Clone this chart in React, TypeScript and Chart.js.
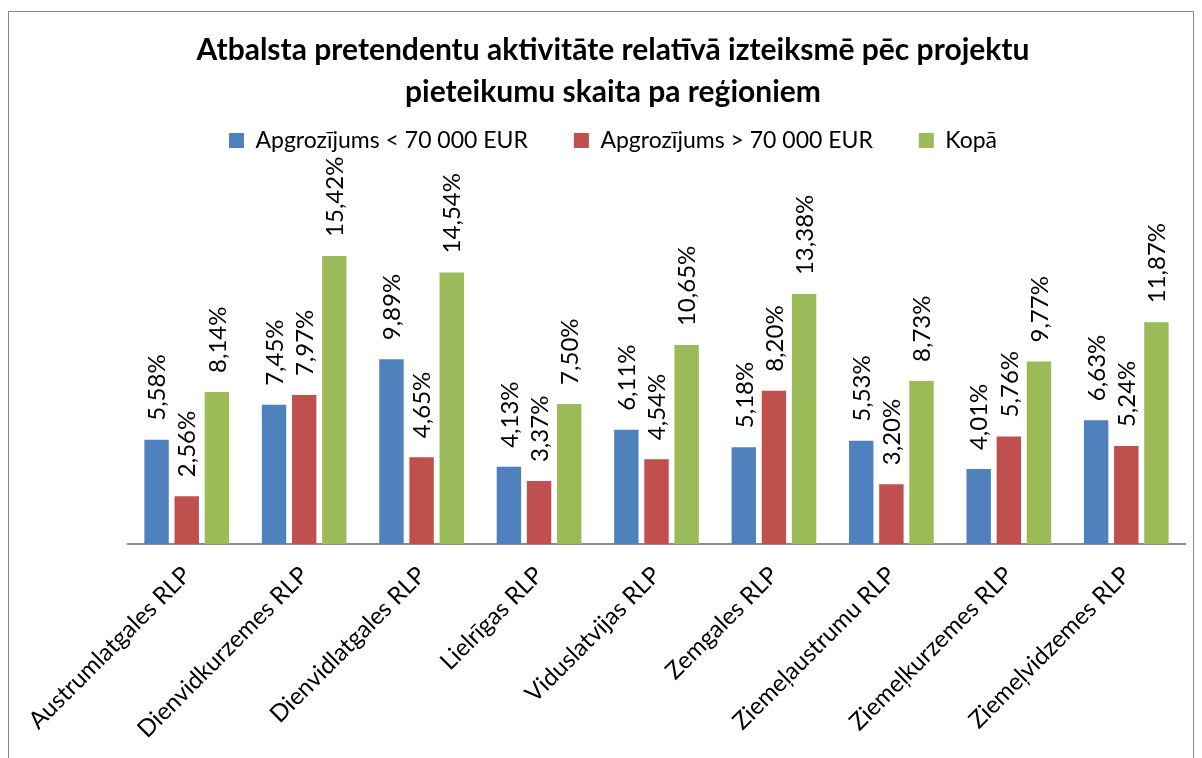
import React, { useEffect, useRef } from "react";
import { Chart, registerables } from "chart.js";

Chart.register(...registerables);

const categories = [
  "Austrumlatgales RLP",
  "Dienvidkurzemes RLP",
  "Dienvidlatgales RLP",
  "Lielrīgas RLP",
  "Viduslatvijas RLP",
  "Zemgales RLP",
  "Ziemeļaustrumu RLP",
  "Ziemeļkurzemes RLP",
  "Ziemeļvidzemes RLP",
];
const seriesNames = ["Apgrozījums < 70 000 EUR", "Apgrozījums > 70 000 EUR", "Kopā"];
const under70k = [5.58, 7.45, 9.89, 4.13, 6.11, 5.18, 5.53, 4.01, 6.63];
const over70k = [2.56, 7.97, 4.65, 3.37, 4.54, 8.2, 3.2, 5.76, 5.24];
const total = [8.14, 15.42, 14.54, 7.5, 10.65, 13.38, 8.73, 9.77, 11.87];
const titleLines = [
  "Atbalsta pretendentu aktivitāte relatīvā izteiksmē pēc projektu",
  "pieteikumu skaita pa reģioniem",
];
const colors = ["#4F81BD", "#C0504D", "#9BBB59"];

const FONT = "Lato";

const valueLabels = {
  id: "valueLabels",
  afterDatasetsDraw(chart: any) {
    const ctx = chart.ctx;
    ctx.save();
    ctx.font = `24px ${FONT}`;
    ctx.fillStyle = "#000";
    ctx.textAlign = "left";
    ctx.textBaseline = "middle";
    chart.data.datasets.forEach((ds: any, di: number) => {
      const meta = chart.getDatasetMeta(di);
      meta.data.forEach((el: any, i: number) => {
        const v = ds.data[i];
        const txt = v.toFixed(2).replace(".", ",") + "%";
        ctx.save();
        ctx.translate(el.x + 1, el.y - 19);
        ctx.rotate(-Math.PI / 2);
        ctx.fillText(txt, 0, 0);
        ctx.restore();
      });
    });
    ctx.restore();
  },
};

export default function App() {
  const ref = useRef<HTMLCanvasElement>(null);
  useEffect(() => {
    if (!ref.current) return;
    const chart = new Chart(ref.current, {
      type: "bar",
      data: {
        labels: categories,
        datasets: [under70k, over70k, total].map((d, i) => ({
          label: seriesNames[i],
          data: d,
          backgroundColor: colors[i],
          categoryPercentage: 0.77,
          barPercentage: 0.81,
        })),
      },
      options: {
        animation: false,
        responsive: false,
        layout: { padding: { left: 41, right: 17, top: 0, bottom: 0 } },
        plugins: {
          title: {
            display: true,
            text: titleLines,
            color: "#000",
            font: { family: FONT, size: 30, weight: "bold", lineHeight: 1.4 },
            padding: { top: 29, bottom: -30 },
          },
          legend: {
            display: true,
            labels: {
              color: "#000",
              font: { family: FONT, size: 23 },
              boxWidth: 15,
              boxHeight: 15,
              padding: 46,
            },
          },
          tooltip: { enabled: false },
        },
        scales: {
          x: {
            grid: { display: false, drawTicks: false },
            border: { display: true, color: "#8c8c8c", width: 2 },
            ticks: {
              color: "#000",
              font: { family: FONT, size: 24 },
              minRotation: 45,
              maxRotation: 45,
              padding: 17,
              labelOffset: 0,
              autoSkip: false,
            },
            afterFit: (s: any) => {
              s.height = 214;
              s.paddingLeft = 0;
              s.paddingRight = 0;
            },
          },
          y: {
            min: 0,
            max: 20.45,
            grid: { display: false, drawTicks: false },
            border: { display: false },
            ticks: { display: false },
            afterFit: (s: any) => {
              s.width = 87;
              s.paddingTop = 0;
              s.paddingBottom = 0;
            },
          },
        },
      },
      plugins: [valueLabels],
    });
    return () => chart.destroy();
  }, []);
  return (
    <div>
      <div
        style={{
          position: "fixed",
          left: 8,
          top: 11,
          width: 1186,
          height: 800,
          border: "1px solid #868686",
          boxSizing: "border-box",
        }}
      />
      <canvas
        ref={ref}
        width={1202}
        height={758}
        style={{ position: "fixed", left: 0, top: 0, width: 1202, height: 758 }}
      />
    </div>
  );
}
